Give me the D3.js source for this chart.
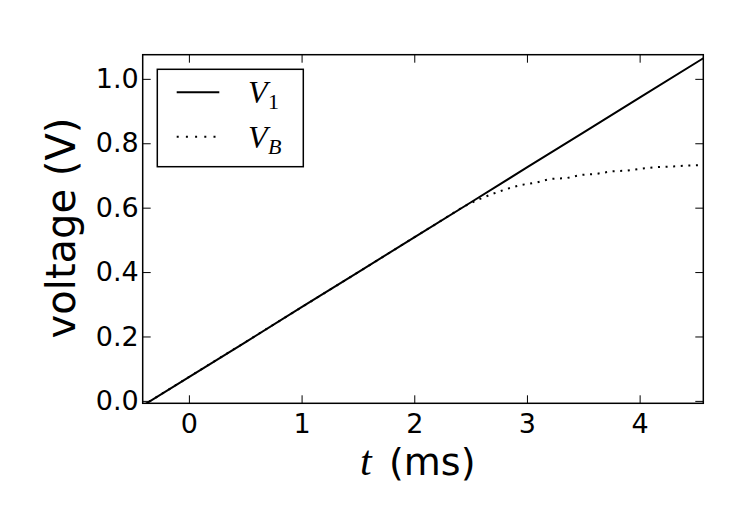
<!DOCTYPE html>
<html><head><meta charset="utf-8">
<script src="https://cdn.jsdelivr.net/npm/d3@7"></script>
<style>
html,body{margin:0;padding:0;background:#fff;}
svg{display:block;}
</style></head>
<body>
<svg id="chart" width="747" height="513"></svg>
<script>
// ---- data ----
const v1T = [-0.41, 0.0, 0.5, 1.0, 1.5, 2.0, 2.5, 3.0, 3.5, 4.0, 4.565];
const v1V = [-0.015, 0.074, 0.182, 0.291, 0.399, 0.508, 0.616, 0.725, 0.833, 0.942, 1.064];
const vbT = [-0.41, 0.0, 0.5, 1.0, 1.5, 2.0, 2.2, 2.435, 2.568, 2.687, 2.820, 2.953, 3.071, 3.205, 3.353, 3.486, 3.619, 3.752, 3.885, 4.019, 4.152, 4.299, 4.432, 4.565];
const vbV = [-0.015, 0.074, 0.182, 0.291, 0.399, 0.508, 0.551, 0.603, 0.625, 0.642, 0.658, 0.671, 0.677, 0.689, 0.692, 0.702, 0.705, 0.713, 0.715, 0.721, 0.726, 0.728, 0.731, 0.732];
const xTicks = [0, 1, 2, 3, 4];
const yTicks = [0.0, 0.2, 0.4, 0.6, 0.8, 1.0];
const seriesMain = ["V", "V"];
const seriesSub = ["1", "B"];
const xLabelMath = "t";
const xLabelText = "(ms)";
const yLabel = "voltage (V)";

// ---- layout ----
const L = 142.7, R = 703.3, T = 54.7, B = 403.3;
const svg = d3.select("#chart");
const x = d3.scaleLinear().domain([-0.41, 4.565]).range([L, R]);
const y = d3.scaleLinear().domain([-0.0075, 1.075]).range([B, T]);

svg.append("defs").append("clipPath").attr("id","clip")
  .append("rect").attr("x",L).attr("y",T).attr("width",R-L).attr("height",B-T);

const line = d3.line().x(d=>x(d[0])).y(d=>y(d[1]));
const d1 = v1T.map((t,i)=>[t, v1V[i]]);
const dB = vbT.map((t,i)=>[t, vbV[i]]);

const g = svg.append("g").attr("clip-path","url(#clip)");
g.append("path").datum(d1).attr("d", line).attr("fill","none")
  .attr("stroke","#000").attr("stroke-width",2);
g.append("path").datum(dB).attr("d", line).attr("fill","none")
  .attr("stroke","#000").attr("stroke-width",2).attr("stroke-dasharray","2,5.6");

// axes
const fmtY = d3.format(".1f");
const axB = svg.append("g").attr("transform",`translate(0,${B})`)
  .call(d3.axisBottom(x).tickValues(xTicks).tickFormat(d3.format("d")).tickSizeInner(-8).tickSizeOuter(0).tickPadding(10.5));
const axT = svg.append("g").attr("transform",`translate(0,${T})`)
  .call(d3.axisTop(x).tickValues(xTicks).tickFormat("").tickSizeInner(-8).tickSizeOuter(0));
const axL = svg.append("g").attr("transform",`translate(${L},0)`)
  .call(d3.axisLeft(y).tickValues(yTicks).tickFormat(fmtY).tickSizeInner(-8).tickSizeOuter(0).tickPadding(4));
const axR = svg.append("g").attr("transform",`translate(${R},0)`)
  .call(d3.axisRight(y).tickValues(yTicks).tickFormat("").tickSizeInner(-8).tickSizeOuter(0));
[axB,axT,axL,axR].forEach(a=>{
  a.select(".domain").remove();
  a.selectAll(".tick line").attr("stroke","#000").attr("stroke-width",1);
  a.selectAll("text").attr("font-family","DejaVu Sans").attr("font-size",27).attr("fill","#000");
});

// frame
svg.append("rect").attr("x",L).attr("y",T).attr("width",R-L).attr("height",B-T)
  .attr("fill","none").attr("stroke","#000").attr("stroke-width",1.5);

// axis labels
svg.append("text").attr("transform","translate(75,228) rotate(-90)")
  .attr("text-anchor","middle").attr("font-family","DejaVu Sans").attr("font-size",40)
  .attr("fill","#000").text(yLabel);
const xl = svg.append("text").attr("y",475).attr("fill","#000");
xl.append("tspan").attr("x",360).attr("font-family","Liberation Serif").attr("font-style","italic")
  .attr("font-size",42).text(xLabelMath);
xl.append("tspan").attr("x",389).attr("font-family","DejaVu Sans").attr("font-size",38).text(xLabelText);

// legend
const lg = svg.append("g");
lg.append("rect").attr("x",157.3).attr("y",69.3).attr("width",146).attr("height",97.4)
  .attr("fill","#fff").attr("stroke","#000").attr("stroke-width",1.5);
const rowY = [92.3, 136.7];
const dashes = [null, "2,7.2"];
seriesMain.forEach((s,i)=>{
  const ln = lg.append("line").attr("x1",176.7).attr("x2",219.3).attr("y1",rowY[i]).attr("y2",rowY[i])
    .attr("stroke","#000").attr("stroke-width",2);
  if (dashes[i]) ln.attr("stroke-dasharray",dashes[i]);
  const t = lg.append("text").attr("y",rowY[i]+11).attr("fill","#000")
    .attr("font-family","Liberation Serif");
  t.append("tspan").attr("x",248).attr("font-style","italic").attr("font-size",32).text(s);
  t.append("tspan").attr("x",268).attr("dy",6)
    .attr("font-style", i===0 ? "normal" : "italic").attr("font-size",22).text(seriesSub[i]);
});
</script>
</body></html>
